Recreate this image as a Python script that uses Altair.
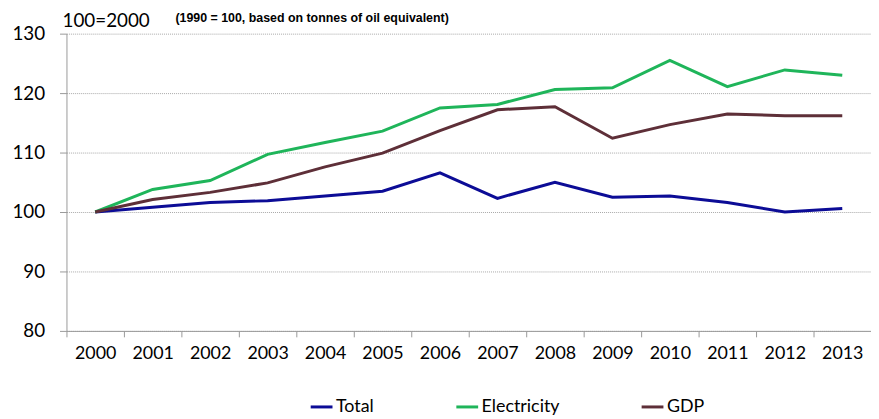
import altair as alt
import pandas as pd

years = [str(y) for y in range(2000, 2014)]
total = [100, 100.8, 101.6, 101.9, 102.7, 103.5, 106.6, 102.3, 105.0, 102.5, 102.7, 101.6, 100.0, 100.6]
electricity = [100, 103.8, 105.3, 109.7, 111.7, 113.6, 117.5, 118.1, 120.6, 120.9, 125.5, 121.1, 123.9, 123.0]
gdp = [100, 102.1, 103.3, 104.9, 107.6, 109.9, 113.7, 117.2, 117.7, 112.4, 114.7, 116.5, 116.2, 116.2]
series_names = ["Total", "Electricity", "GDP"]
series_colors = ["#0c0c96", "#1fb55a", "#5e2f38"]
title_text = "100=2000"
note_text = "(1990 = 100, based on tonnes of oil equivalent)"

rows = []
for name, vals in zip(series_names, [total, electricity, gdp]):
    for y, v in zip(years, vals):
        rows.append({"Year": y, "Value": v, "Series": name})
df = pd.DataFrame(rows)

FONT = "Lato"

lines = alt.Chart(df).mark_line(strokeWidth=3).encode(
    x=alt.X("Year:O", title=None,
            scale=alt.Scale(type="band", paddingInner=0, paddingOuter=0),
            axis=alt.Axis(labelAngle=0, tickBand="extent", grid=False, domainColor="#999999",
                          tickColor="#999999", tickSize=6, labelPadding=8, labelFontSize=18,
                          labelFont=FONT, labelColor="#000000")),
    y=alt.Y("Value:Q", title=None,
            scale=alt.Scale(domain=[80, 130], nice=False, zero=False),
            axis=alt.Axis(values=[80, 90, 100, 110, 120, 130], grid=True, gridDash=[1, 1],
                          gridColor="#a8a8a8", domainColor="#999999", tickColor="#999999",
                          tickSize=7, labelPadding=15, labelFontSize=19, labelFont=FONT,
                          labelColor="#000000", minExtent=59, maxExtent=59)),
    color=alt.Color("Series:N", title=None,
                    scale=alt.Scale(domain=series_names, range=series_colors),
                    sort=series_names,
                    legend=alt.Legend(orient="none", legendX=245, legendY=364, direction="horizontal",
                                      symbolType="stroke", symbolStrokeWidth=3, symbolSize=484,
                                      labelFontSize=18, labelFont=FONT, labelColor="#000000",
                                      columnPadding=76, labelOffset=2)),
)

title_mark = alt.Chart(pd.DataFrame({"t": [title_text]})).mark_text(
    align="left", baseline="alphabetic", fontSize=19, font=FONT, color="#000000"
).encode(text="t:N", x=alt.value(-4), y=alt.value(-7))

note_mark = alt.Chart(pd.DataFrame({"t": [note_text]})).mark_text(
    align="left", baseline="alphabetic", fontSize=12.5, font="Liberation Sans",
    fontWeight="bold", color="#000000"
).encode(text="t:N", x=alt.value(110), y=alt.value(-12))

chart = alt.layer(lines, title_mark, note_mark).properties(
    width=812, height=300,
    autosize=alt.AutoSizeParams(type="none"),
    padding={"left": 59, "top": 24, "right": 0, "bottom": 85},
).configure_view(stroke=None)

chart.save("out.html", embed_options={"renderer": "svg", "actions": False})
